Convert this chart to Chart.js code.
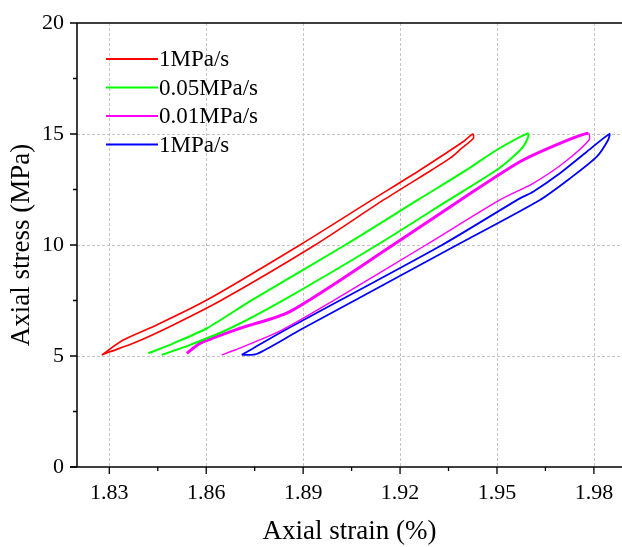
<!DOCTYPE html>
<html><head><meta charset="utf-8">
<script src="https://cdn.jsdelivr.net/npm/chart.js@4.4.1/dist/chart.umd.min.js"></script>
<style>html,body{margin:0;padding:0;background:#fff;overflow:hidden;}</style>
</head><body><canvas id="c" width="622" height="547"></canvas>
<script>
const seriesLabels = ['1MPa/s', '0.05MPa/s', '0.01MPa/s', '1MPa/s'];
const seriesColors = ['#ff0000', '#00ff00', '#ff00ff', '#0000ff'];
const xTickValues = [1.83, 1.86, 1.89, 1.92, 1.95, 1.98];
const xMinorTicks = [1.845, 1.875, 1.905, 1.935, 1.965];
const yTickValues = [0, 5, 10, 15, 20];
const yMinorTicks = [2.5, 7.5, 12.5, 17.5];
const xTitle = 'Axial strain (%)';
const yTitle = 'Axial stress (MPa)';

const redStrain = [1.8277, 1.8302, 1.8374, 1.8498, 1.8648, 1.8937, 1.9149, 1.9298, 1.9355, 1.9391, 1.9427, 1.9425, 1.9395, 1.9262, 1.9113, 1.8890, 1.8602, 1.8447, 1.8343, 1.8277];
const redStress = [5.05, 5.19, 5.57, 6.40, 7.52, 10.0, 12.03, 13.38, 13.91, 14.36, 14.81, 15.0, 14.65, 13.38, 12.03, 10.0, 7.52, 6.40, 5.72, 5.05];

const greenStrain = [1.8462, 1.8550, 1.8674, 1.8839, 1.9129, 1.9351, 1.9499, 1.9550, 1.9581, 1.9597, 1.9595, 1.9499, 1.9406, 1.9255, 1.9030, 1.8741, 1.8602, 1.8498, 1.8421];
const greenStress = [5.05, 5.50, 6.25, 7.52, 10.0, 12.03, 13.38, 13.98, 14.43, 14.88, 15.03, 14.28, 13.38, 12.03, 10.0, 7.52, 6.25, 5.57, 5.12];

const magentaStrain = [1.8648, 1.8689, 1.8834, 1.8996, 1.9280, 1.9509, 1.9612, 1.9705, 1.9785, 1.9783, 1.9695, 1.9571, 1.9387, 1.9178, 1.8859, 1.8705, 1.8581, 1.8540];
const magentaStress = [5.05, 5.27, 6.17, 7.52, 10.0, 12.03, 12.78, 13.68, 14.73, 15.03, 14.58, 13.75, 12.03, 10.0, 7.0, 6.25, 5.57, 5.12];
const magentaThickFrom = 9;

const blueStrain = [1.8710, 1.8756, 1.8890, 1.9062, 1.9376, 1.9633, 1.9726, 1.9809, 1.9844, 1.9848, 1.9778, 1.9695, 1.9612, 1.9571, 1.9330, 1.9016, 1.8844, 1.8746, 1.8710];
const blueStress = [5.05, 5.09, 6.17, 7.52, 10.0, 12.03, 13.0, 13.98, 14.73, 15.0, 14.2, 13.23, 12.4, 12.1, 10.0, 7.52, 6.17, 5.35, 5.05];

const pts = (xs, ys) => xs.map((x, i) => ({x: x, y: ys[i]}));
const FONT = '"Liberation Serif", "Times New Roman", serif';

const datasets = [
  {label: seriesLabels[0], data: pts(redStrain, redStress), borderColor: seriesColors[0], borderWidth: 1.6},
  {label: seriesLabels[1], data: pts(greenStrain, greenStress), borderColor: seriesColors[1], borderWidth: 2},
  {label: seriesLabels[2], data: pts(magentaStrain, magentaStress), borderColor: seriesColors[2], borderWidth: 1.4,
    segment: {borderWidth: ctx => ctx.p0DataIndex >= magentaThickFrom ? 3 : 1.4}},
  {label: seriesLabels[3], data: pts(blueStrain, blueStress), borderColor: seriesColors[3], borderWidth: 1.8}
].map(d => Object.assign({showLine: true, pointRadius: 0, tension: 0.25, fill: false}, d));

const zeroPad = s => { s.paddingLeft = 0; s.paddingRight = 0; s.paddingTop = 0; s.paddingBottom = 0; };

const decor = {
  id: 'decor',
  beforeDatasetsDraw(chart) {
    const {ctx, chartArea: a, scales: {x, y}} = chart;
    ctx.save();
    ctx.strokeStyle = '#c4c4c4';
    ctx.lineWidth = 1;
    ctx.setLineDash([3, 2]);
    xTickValues.forEach(v => {
      const px = Math.round(x.getPixelForValue(v)) + 0.5;
      ctx.beginPath(); ctx.moveTo(px, a.top); ctx.lineTo(px, a.bottom); ctx.stroke();
    });
    yTickValues.forEach(v => {
      if (v === 0 || v === 20) return;
      const py = Math.round(y.getPixelForValue(v)) + 0.5;
      ctx.beginPath(); ctx.moveTo(a.left, py); ctx.lineTo(a.right, py); ctx.stroke();
    });
    ctx.restore();
  },
  afterDatasetsDraw(chart) {
    const {ctx, chartArea: a, scales: {x, y}} = chart;
    ctx.save();
    ctx.strokeStyle = '#000';
    ctx.lineWidth = 1.5;
    ctx.setLineDash([]);
    ctx.beginPath();
    ctx.moveTo(a.left, a.top); ctx.lineTo(a.right, a.top);
    ctx.moveTo(a.left, a.top); ctx.lineTo(a.left, a.bottom);
    ctx.moveTo(a.left - 7, a.bottom); ctx.lineTo(a.right, a.bottom);
    ctx.stroke();
    ctx.lineWidth = 1.3;
    ctx.beginPath();
    xTickValues.forEach(v => { const px = x.getPixelForValue(v); ctx.moveTo(px, a.bottom); ctx.lineTo(px, a.bottom + 7); });
    xMinorTicks.forEach(v => { const px = x.getPixelForValue(v); ctx.moveTo(px, a.bottom); ctx.lineTo(px, a.bottom + 4); });
    yTickValues.forEach(v => { const py = y.getPixelForValue(v); ctx.moveTo(a.left, py); ctx.lineTo(a.left - 7, py); });
    yMinorTicks.forEach(v => { const py = y.getPixelForValue(v); ctx.moveTo(a.left, py); ctx.lineTo(a.left - 4, py); });
    ctx.stroke();
    ctx.font = '23px ' + FONT;
    ctx.textBaseline = 'middle';
    ctx.fillStyle = '#000';
    chart.data.datasets.forEach((d, i) => {
      const ly = 59 + i * 28.5;
      ctx.strokeStyle = d.borderColor;
      ctx.lineWidth = 1.8;
      ctx.beginPath(); ctx.moveTo(106, ly); ctx.lineTo(158, ly); ctx.stroke();
      ctx.fillText(d.label, 159, ly + 1);
    });
    ctx.restore();
  }
};

new Chart(document.getElementById('c'), {
  type: 'scatter',
  data: {datasets: datasets},
  plugins: [decor],
  options: {
    responsive: false,
    animation: false,
    layout: {padding: {top: 23, right: 0, left: 0, bottom: 0}, autoPadding: false},
    plugins: {legend: {display: false}, tooltip: {enabled: false}},
    scales: {
      x: {
        type: 'linear', min: 1.82, max: 1.9887,
        afterBuildTicks: s => { s.ticks = xTickValues.map(v => ({value: v})); },
        afterFit: s => { s.height = 80; zeroPad(s); },
        grid: {display: false, drawTicks: false, tickLength: 0},
        border: {display: false},
        ticks: {color: '#000', font: {family: FONT, size: 22}, padding: 13, maxRotation: 0,
          callback: v => v.toFixed(2)},
        title: {display: true, text: xTitle, color: '#000', font: {family: FONT, size: 27}, padding: {top: 0, bottom: -1}}
      },
      y: {
        type: 'linear', min: 0, max: 20,
        afterBuildTicks: s => { s.ticks = yTickValues.map(v => ({value: v})); },
        afterFit: s => { s.width = 77; zeroPad(s); },
        grid: {display: false, drawTicks: false, tickLength: 0},
        border: {display: false},
        ticks: {color: '#000', font: {family: FONT, size: 22}, padding: 13},
        title: {display: true, text: yTitle, color: '#000', font: {family: FONT, size: 27}, padding: {top: 6, bottom: 0}}
      }
    }
  }
});
</script></body></html>
